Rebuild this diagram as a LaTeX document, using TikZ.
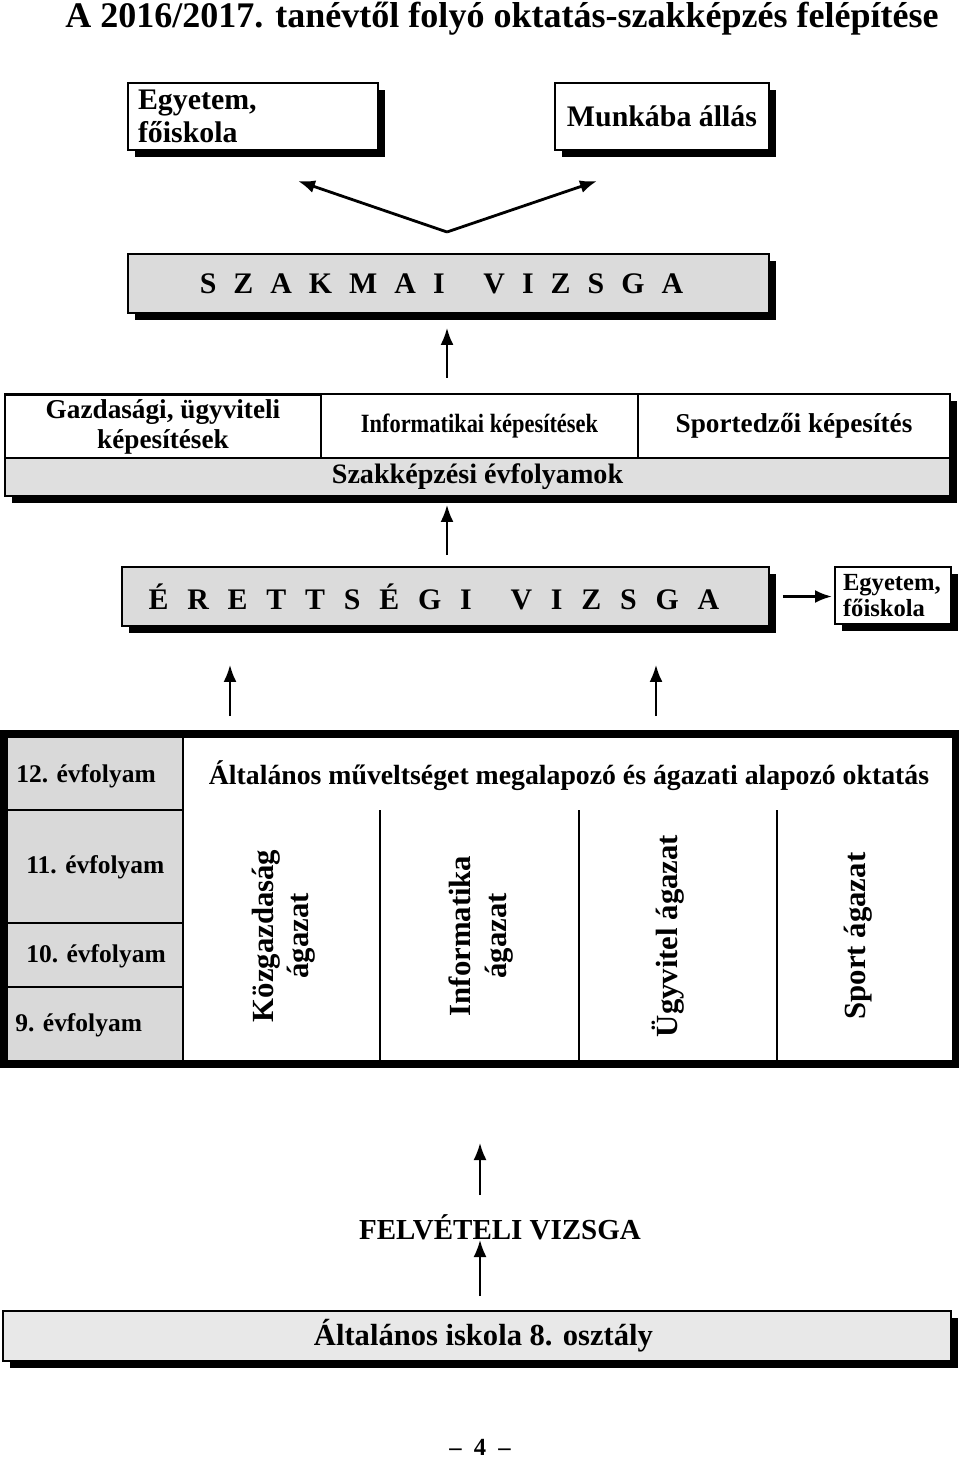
\documentclass[tikz,border=0pt]{standalone}
\usepackage{fontspec}
\setmainfont{Liberation Serif}
\newfontfamily\narrowfont[FakeStretch=0.85]{Liberation Serif}
\newfontfamily\spacedfont[LetterSpace=57]{Liberation Serif}
\newfontfamily\widespacedfont[LetterSpace=63]{Liberation Serif}
\usetikzlibrary{arrows.meta,shadows}

\newcommand{\fsz}[2]{\bfseries\fontsize{#1}{#2}\selectfont}

\tikzset{
  shadowbox/.style={draw, fill=white, line width=0.9pt, outer sep=0pt, inner sep=0pt,
    drop shadow={shadow xshift=3.8pt, shadow yshift=-3.8pt, fill=black, opacity=1}},
  cell/.style={draw, line width=0.8pt, outer sep=0pt, inner sep=0pt},
  upar/.style={-{Latex[length=0.34cm,width=0.26cm]}, line width=1.1pt},
  branch/.style={rotate=90, align=center, inner sep=0pt, font=\fsz{17.5}{20}},
  yrlabel/.style={anchor=west, inner sep=0pt, font=\fsz{14.5}{17}},
}

\begin{document}
\begin{tikzpicture}[x=0.02cm, y=-0.02cm]
  \useasboundingbox (0,0) rectangle (960,1459);

  % Title
  \node[font=\fsz{20.5}{24}] (title) at (502,19) {A 2016/2017. tanévtől folyó oktatás-szakképzés felépítése};

  % Exits after the vocational exam
  \node[shadowbox, minimum width=5cm, minimum height=1.34cm, text width=4.6cm, align=left, font=\fsz{17}{19}] (egytop) at (253,116.5) {Egyetem,\\főiskola};
  \node[shadowbox, minimum width=4.28cm, minimum height=1.34cm, font=\fsz{17}{20}] (munka) at (662,116.5) {Munkába állás};

  \coordinate (fork) at (447,232);
  \coordinate (tipL) at (298,181);
  \coordinate (tipR) at (597,181);
  \draw[upar, line width=1.6pt] (fork) -- (tipL);
  \draw[upar, line width=1.6pt] (fork) -- (tipR);

  % Vocational exam
  \node[shadowbox, fill=gray!28, minimum width=12.82cm, minimum height=1.18cm, font=\spacedfont\fsz{17}{20}] (szakmai) at (448.5,283.5) {SZAKMAI\hspace{1.3em}VIZSGA\kern0.47em};

  \coordinate (a1) at (447,378);
  \draw[upar, shorten >=0.3cm] (a1) -- (a1 |- szakmai.south);

  % Qualifications table
  \node[shadowbox, minimum width=18.9cm, minimum height=2.04cm] (qualtab) at (477.5,445) {};
  \node[cell, minimum width=6.32cm, minimum height=1.28cm, align=center, font=\fsz{15.5}{17.5}] (gazd) at (163,427) {Gazdasági, ügyviteli\\képesítések};
  \node[cell, minimum width=6.34cm, minimum height=1.28cm, font=\narrowfont\fsz{15}{17}] (info) at (479.5,426) {Informatikai képesítések};
  \node[cell, minimum width=6.24cm, minimum height=1.28cm, font=\fsz{15.5}{17}] (sport) at (794,426) {Sportedzői képesítés};
  \node[cell, fill=gray!25, minimum width=18.9cm, minimum height=0.76cm, font=\fsz{16}{18}] (szakev) at (477.5,477) {Szakképzési évfolyamok};

  \coordinate (a2) at (447,555);
  \draw[upar, shorten >=0.18cm] (a2) -- (a2 |- szakev.south);

  % Final exam
  \node[shadowbox, fill=gray!28, minimum width=12.94cm, minimum height=1.18cm, font=\widespacedfont\fsz{17}{20}] (erett) at (445.5,596.5) {ÉRETTSÉGI\hspace{1.3em}VIZSGA\kern0.78em};
  \node[shadowbox, minimum width=2.32cm, minimum height=1.14cm, text width=2.0cm, align=left, font=\fsz{14}{14.8}] (egyside) at (893,595.5) {Egyetem,\\főiskola};
  \draw[upar, line width=1.6pt, shorten <=0.28cm, shorten >=0.06cm] (erett.east) -- (egyside.west |- erett.east);

  \coordinate (a3) at (230,716);
  \coordinate (a4) at (656,716);
  \draw[upar, shorten >=0.78cm] (a3) -- (a3 |- erett.south);
  \draw[upar, shorten >=0.78cm] (a4) -- (a4 |- erett.south);

  % Grades 9-12
  \node[cell, fill=gray!30, minimum width=3.58cm, minimum height=1.52cm] (c12) at (93.5,772) {};
  \node[cell, fill=gray!30, minimum width=3.58cm, minimum height=2.26cm] (c11) at (93.5,866.5) {};
  \node[cell, fill=gray!30, minimum width=3.58cm, minimum height=1.28cm] (c10) at (93.5,955) {};
  \node[cell, fill=gray!30, minimum width=3.58cm, minimum height=1.54cm] (c9) at (93.5,1025.5) {};
  \node[yrlabel] (l12) at (16,776) {12. évfolyam};
  \node[yrlabel] (l11) at (26,867) {11. évfolyam};
  \node[yrlabel] (l10) at (26,956) {10. évfolyam};
  \node[yrlabel] (l9) at (15,1025) {9. évfolyam};

  \node[font=\fsz{15.8}{18}] (gen) at (569,776) {Általános műveltséget megalapozó és ágazati alapozó oktatás};
  \foreach \x in {380,579,777}
    \draw[line width=0.8pt] (\x,810) -- (\x,1064);

  \node[branch] (kozg) at (284,936) {Közgazdaság\\ágazat};
  \node[branch] (inf) at (481,936) {Informatika\\ágazat};
  \node[branch] (ugyv) at (668,936) {Ügyvitel ágazat};
  \node[branch] (sportag) at (858,936) {Sport ágazat};

  \draw[line width=4pt] (4,734) rectangle (955,1064);

  % Entrance
  \node[inner sep=0pt, font=\fsz{16.5}{19}] (felv) at (500,1227) {FELVÉTELI VIZSGA};
  \coordinate (a6) at (480,1143);
  \draw[upar, shorten <=0.38cm] (felv.north -| a6) -- (a6);

  \node[shadowbox, fill=gray!18, minimum width=18.96cm, minimum height=1.0cm, font=\fsz{17.4}{20}] (altisk) at (477,1336) {\hspace{0.42em}Általános iskola 8. osztály};
  \coordinate (a5) at (480,1296);
  \draw[upar] (a5) -- (a5 |- felv.south);

  \node[font=\fsz{14}{16}] (pagenum) at (480,1447) {–\ \ 4\ \ –};
\end{tikzpicture}
\end{document}
